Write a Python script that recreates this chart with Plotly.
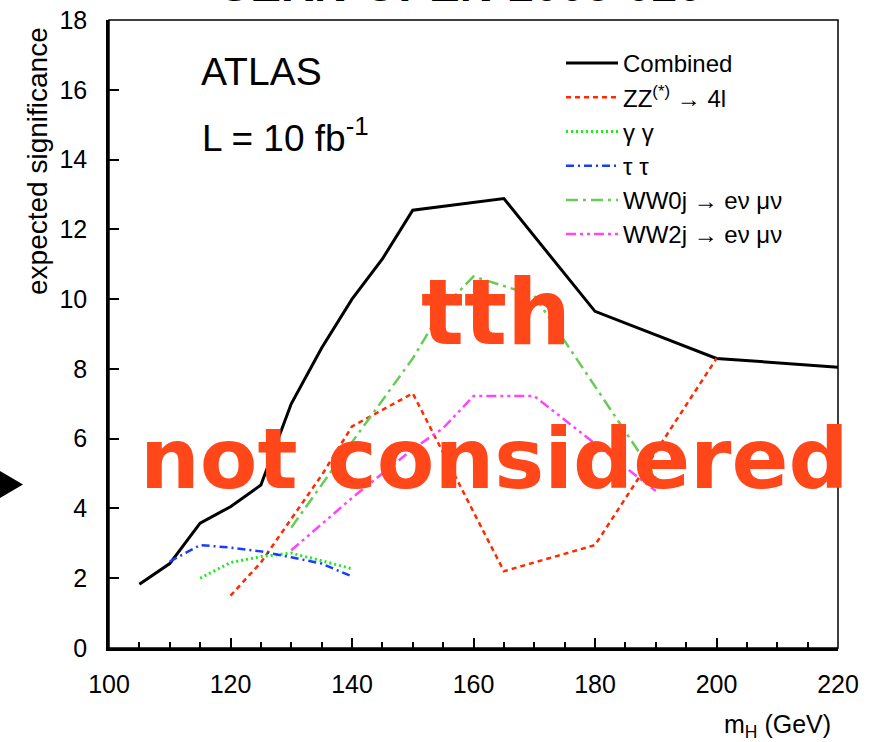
import plotly.graph_objects as go

# ---- data ----
m_comb = [105, 110, 115, 120, 125, 130, 135, 140, 145, 150, 165, 180, 200, 220]
s_comb = [1.83, 2.42, 3.58, 4.05, 4.67, 7.0, 8.6, 10.0, 11.15, 12.55, 12.88, 9.65, 8.3, 8.05]

m_zz = [120, 125, 130, 135, 140, 150, 165, 180, 200]
s_zz = [1.5, 2.45, 3.7, 4.95, 6.35, 7.3, 2.2, 2.95, 8.3]

m_gg = [115, 120, 125, 130, 135, 140]
s_gg = [2.0, 2.45, 2.62, 2.72, 2.5, 2.27]

m_tt = [110, 115, 120, 125, 130, 135, 140]
s_tt = [2.48, 2.95, 2.88, 2.77, 2.6, 2.42, 2.05]

m_ww0 = [130, 140, 150, 155, 160, 170, 190]
s_ww0 = [3.45, 5.9, 8.3, 9.75, 10.65, 10.1, 4.9]

m_ww2 = [130, 135, 140, 145, 150, 155, 160, 170, 190]
s_ww2 = [2.8, 3.55, 4.3, 5.0, 5.7, 6.3, 7.22, 7.22, 4.5]

names = ["Combined", "ZZ<sup>(*)</sup> \u2192 4l", "\u03b3 \u03b3", "\u03c4 \u03c4",
         "WW0j \u2192 e\u03bd \u03bc\u03bd", "WW2j \u2192 e\u03bd \u03bc\u03bd"]

x_ticks = [100, 120, 140, 160, 180, 200, 220]
y_ticks = [0, 2, 4, 6, 8, 10, 12, 14, 16, 18]

FONT = "Liberation Sans, Arial, Helvetica, sans-serif"

series = [
    (m_comb, s_comb, "black", 3, "solid"),
    (m_zz, s_zz, "#ff2a00", 2.5, "5px,4px"),
    (m_gg, s_gg, "#1aee1a", 3, "2px,3px"),
    (m_tt, s_tt, "#1a3cff", 2.5, "8px,4px,2px,4px"),
    (m_ww0, s_ww0, "#66cc55", 2.5, "12px,5px,3px,5px"),
    (m_ww2, s_ww2, "#ff44ff", 2.5, "10px,4px,3px,4px,3px,4px"),
]

fig = go.Figure()
for i, (mx, sy, col, w, dash) in enumerate(series):
    fig.add_trace(go.Scatter(x=mx, y=sy, mode="lines", name=names[i],
                             legendgroup=str(i),
                             line=dict(color=col, width=w, dash=dash)))

L, R, T, B = 109, 38, 20, 94
W, H = 876, 742
pw, ph = W - L - R, H - T - B

def px(xp):
    return (xp - L) / pw

def py(yp):
    return (H - B - yp) / ph

fig.update_layout(
    template="none",
    width=W, height=H,
    margin=dict(l=L, r=R, t=T, b=B, autoexpand=False),
    paper_bgcolor="white", plot_bgcolor="white",
    font=dict(family=FONT, color="black", size=25),
    showlegend=True,
    legend=dict(x=px(561), y=py(41), xanchor="left", yanchor="top",
                bgcolor="rgba(0,0,0,0)", font=dict(size=24, family=FONT),
                tracegroupgap=0, itemwidth=52),
    xaxis=dict(range=[100, 220], tickvals=x_ticks, showgrid=False, zeroline=False,
               automargin=False,
               showline=True, linewidth=3, linecolor="black",
               ticks="inside", ticklen=10, tickwidth=1.5, tickcolor="black",
               minor=dict(ticks="inside", ticklen=6, tickwidth=1.5, dtick=5, tickcolor="black"),
               ticklabelstandoff=12, tickfont=dict(size=25, family=FONT)),
    yaxis=dict(range=[0, 18], tickvals=y_ticks, showgrid=False, zeroline=False,
               automargin=False,
               showline=True, linewidth=2.5, linecolor="black",
               ticks="inside", ticklen=10, tickwidth=1.5, tickcolor="black",
               ticklabelstandoff=14, tickfont=dict(size=25, family=FONT)),
)

# frame box
fig.add_shape(type="rect", xref="paper", yref="paper", x0=0, y0=0, x1=1, y1=1,
              line=dict(color="black", width=1.5), layer="above")

# black arrow at left
fig.add_shape(type="path", xref="paper", yref="paper",
              path=f"M {px(0)} {py(471)} L {px(0)} {py(498)} L {px(23)} {py(484.5)} Z",
              fillcolor="black", line=dict(color="black", width=0))

ann = [
    dict(text="ATLAS", x=px(199), y=py(71), xanchor="left", yanchor="middle",
         font=dict(size=39, family=FONT)),
    dict(text="L = 10 fb<sup>-1</sup>", x=px(200), y=py(135), xanchor="left", yanchor="middle",
         font=dict(size=37, family=FONT)),
    dict(text="expected significance", x=px(37), y=py(161), xanchor="center", yanchor="middle",
         textangle=-90, font=dict(size=28, family=FONT)),
    dict(text="m<sub>H</sub> (GeV)", x=px(833), y=py(726), xanchor="right", yanchor="middle",
         font=dict(size=25, family=FONT)),
    dict(text="CERN-OPEN-2008-020", x=px(460), y=py(-15), xanchor="center", yanchor="middle",
         font=dict(size=46, family=FONT, weight="bold")),
    dict(text="tth", x=px(496), y=py(313), xanchor="center", yanchor="middle",
         font=dict(size=90, family="DejaVu Sans", color="#ff4719", weight="bold")),
    dict(text="not considered", x=px(494), y=py(459), xanchor="center", yanchor="middle",
         font=dict(size=84, family="DejaVu Sans", color="#ff4719", weight="bold")),
]
for a in ann:
    a.update(xref="paper", yref="paper", showarrow=False)
    fig.add_annotation(**a)

fig.write_html("out.html", config={"displayModeBar": False},
               post_script="document.body.style.margin='0px';")
